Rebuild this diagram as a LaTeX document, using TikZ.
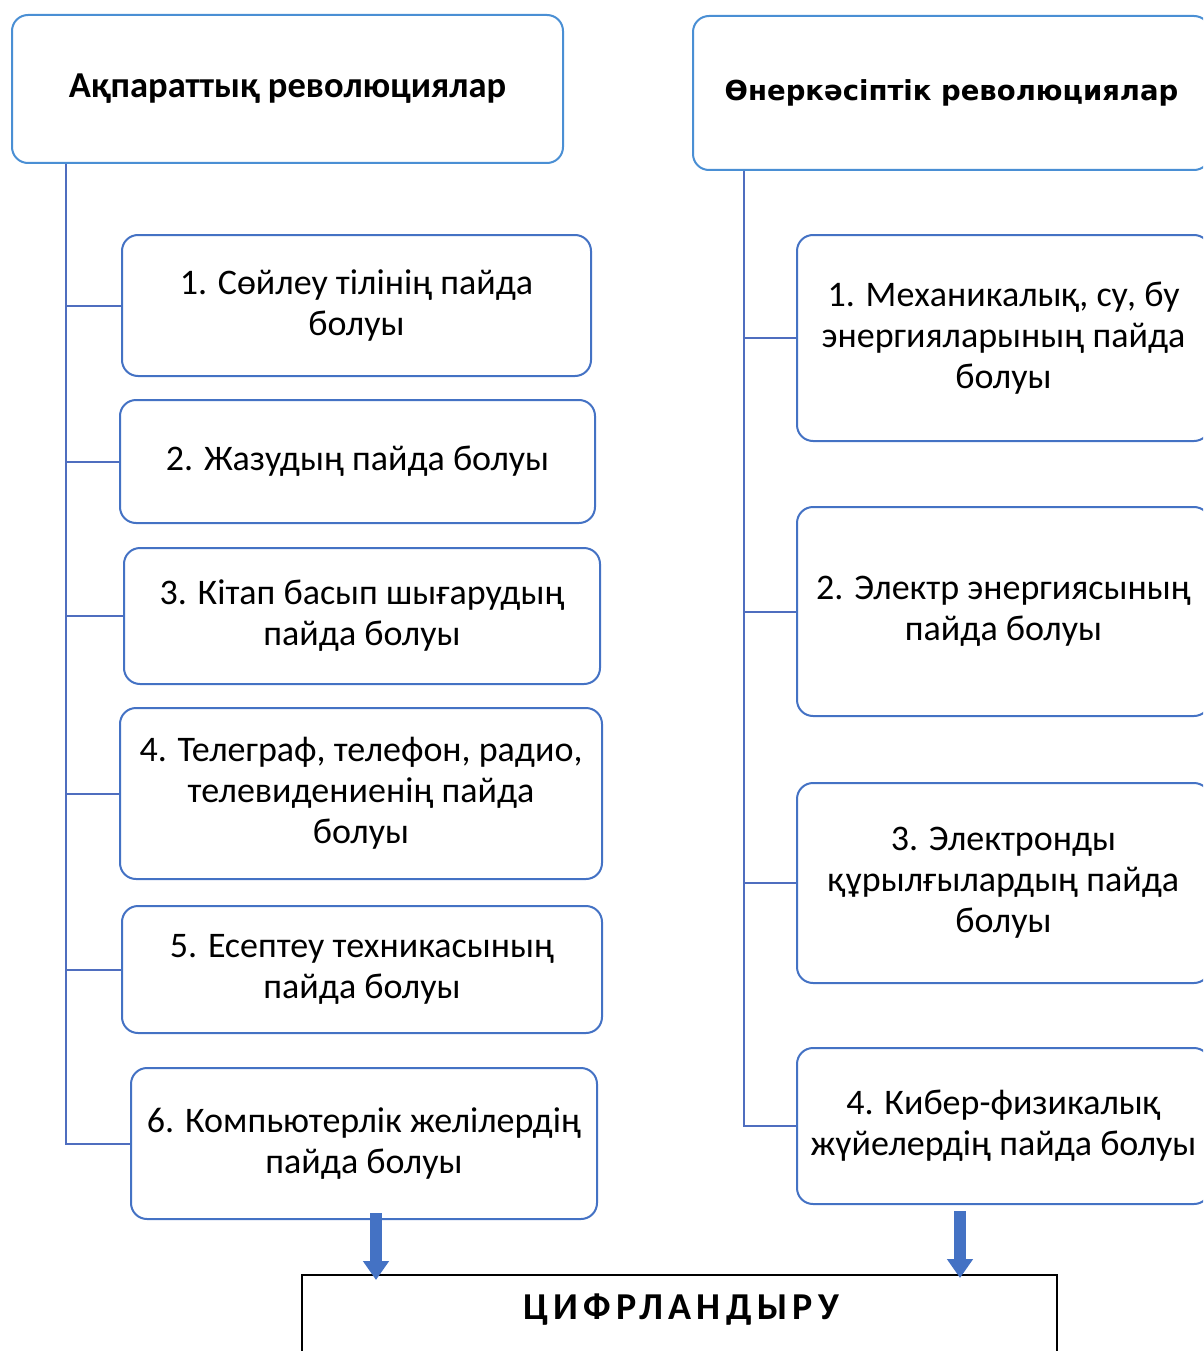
\documentclass[tikz,border=0pt]{standalone}
\usepackage{fontspec}
\setmainfont{Carlito}
\newfontfamily\hdrfont{DejaVu Sans}
\newfontfamily\digfont[LetterSpace=14]{Carlito}
\usetikzlibrary{arrows.meta}
\definecolor{boxblue}{HTML}{4472C4}
\definecolor{hdrblue}{HTML}{4A8FD4}
\definecolor{lineblue}{HTML}{4F6EBF}
\begin{document}
\begin{tikzpicture}[x=1pt,y=-1pt,
  box/.style={draw=boxblue, line width=2pt, rounded corners=16pt, fill=white,
    align=center, inner sep=0pt, font=\fontsize{36}{41}\selectfont},
  hdr/.style={draw=hdrblue, line width=2pt, rounded corners=16pt, fill=white,
    align=center, inner sep=0pt},
  conn/.style={draw=lineblue, line width=2pt},
  bigarrow/.style={draw=boxblue, line width=12pt,
    -{Triangle[width=25pt,length=19pt]}}]
\useasboundingbox (0,0) rectangle (1203,1351);
\clip (0,0) rectangle (1203,1351);
% headers
\node[hdr, minimum width=551, minimum height=148, font=\fontsize{36.5}{42}\selectfont\bfseries] (L0) at (287.5,89) {Ақпараттық революциялар};
\node[hdr, minimum width=517, minimum height=154, font=\hdrfont\fontsize{27.5}{32}\selectfont\bfseries] (R0) at (951.5,93) {Өнеркәсіптік революциялар};
% left boxes
\node[box, minimum width=469, minimum height=141] (L1) at (356.5,305.5) {1. Сөйлеу тілінің пайда\\болуы};
\node[box, minimum width=475, minimum height=123] (L2) at (357.5,461.5) {2. Жазудың пайда болуы};
\node[box, minimum width=476, minimum height=136] (L3) at (362,616) {3. Кітап басып шығарудың\\пайда болуы};
\node[box, minimum width=482, minimum height=171] (L4) at (361,793.5) {4. Телеграф, телефон, радио,\\телевидениенің пайда\\болуы};
\node[box, minimum width=480, minimum height=127] (L5) at (362,969.5) {5. Есептеу техникасының\\пайда болуы};
\node[box, minimum width=466, minimum height=151] (L6) at (364,1143.5) {6. Компьютерлік желілердің\\пайда болуы};
% right boxes
\node[box, minimum width=413, minimum height=206] (R1) at (1003.5,338) {1. Механикалық, су, бу\\энергияларының пайда\\болуы};
\node[box, minimum width=413, minimum height=209] (R2) at (1003.5,611.5) {2. Электр энергиясының\\пайда болуы};
\node[box, minimum width=413, minimum height=200] (R3) at (1003.5,883) {3. Электронды\\құрылғылардың пайда\\болуы};
\node[box, minimum width=413, minimum height=156] (R4) at (1003.5,1126) {4. Кибер-физикалық\\жүйелердің пайда болуы};
% left connectors
\coordinate (Lx) at (66,0);
\draw[conn] (L0.south -| Lx) |- (L6.west);
\foreach \n in {L1,L2,L3,L4,L5} \draw[conn] (\n.west -| Lx) -- (\n.west);
% right connectors
\coordinate (Rx) at (744,0);
\draw[conn] (R0.south -| Rx) |- (R4.west);
\foreach \n in {R1,R2,R3} \draw[conn] (\n.west -| Rx) -- (\n.west);
% bottom box
\node[draw=black, line width=1.5pt, minimum width=755, minimum height=160, anchor=north, inner sep=0pt] (D) at (679.5,1274) {};
\node[font=\digfont\fontsize{38}{44}\selectfont\bfseries] (Dt) at (681,1310) {ЦИФРЛАНДЫРУ};
% arrows
\coordinate (A1s) at (376,1213);
\coordinate (A2s) at (960,1211);
\draw[bigarrow] (A1s) -- (A1s |- 0,1280);
\draw[bigarrow] (A2s) -- (A2s |- 0,1278);
\end{tikzpicture}
\end{document}
